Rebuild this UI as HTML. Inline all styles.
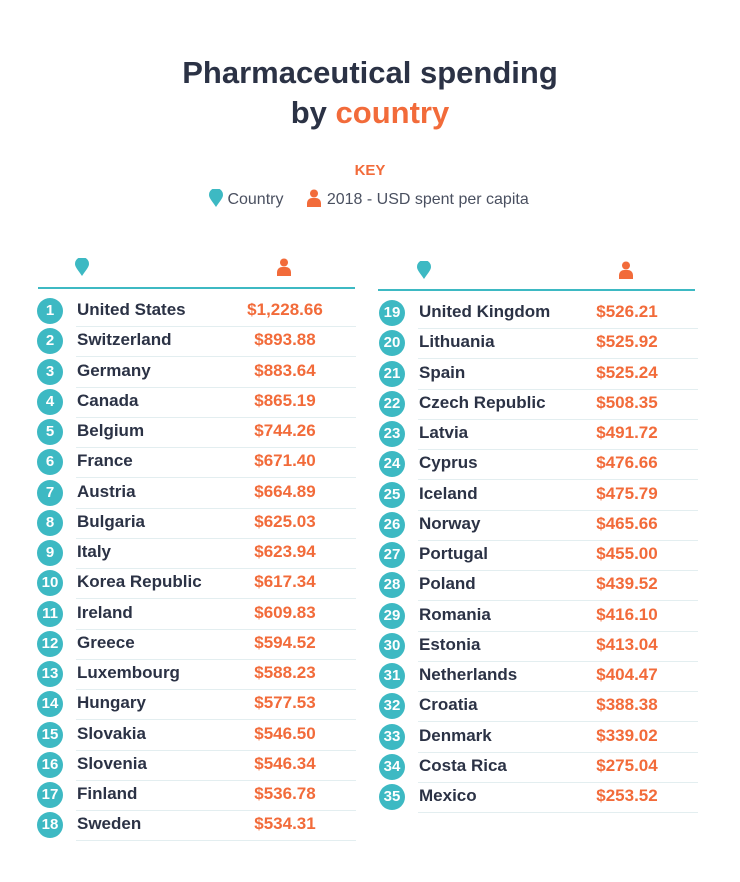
<!DOCTYPE html>
<html><head><meta charset="utf-8"><style>
body{margin:0;width:740px;height:882px;background:#fff;font-family:"Liberation Sans",sans-serif;position:relative;overflow:hidden}
.t{position:absolute;left:0;width:740px;text-align:center;font-weight:bold;font-size:31px;color:#2b3245}
.o{color:#f26b3a}
.row{position:absolute;height:30px}
.c{position:absolute;width:26px;height:26px;border-radius:50%;background:#3db9c3;color:#fff;font-weight:bold;font-size:15px;text-align:center;line-height:26px;top:-13px}
.n{position:absolute;font-weight:bold;font-size:17px;color:#2b3245;top:-11px;white-space:nowrap}
.v{position:absolute;font-weight:bold;font-size:17px;color:#f26b3a;top:-11px;width:120px;text-align:center}
.sep{position:absolute;height:1px;background:#e3eef0;top:15px}
.hl{position:absolute;height:2px;background:#3db9c3}
</style></head><body>
<div class="t" style="top:55px">Pharmaceutical spending</div>
<div class="t" style="top:95px">by <span class="o">country</span></div>
<div style="position:absolute;top:162px;left:0;width:740px;text-align:center;color:#f26b3a;font-weight:bold;font-size:15px">KEY</div>
<div style="position:absolute;top:189px;left:209px;font-size:16px;color:#4a5060">
<svg width="14" height="18" style="vertical-align:-3px" viewBox="0 0 14 18"><path d="M7 18C3 12 0 9 0 6a7 7 0 0 1 14 0c0 3-3 6-7 12z" fill="#3db9c3"/></svg> Country
<span style="display:inline-block;width:14px"></span>
<svg width="16" height="18" style="vertical-align:-3px" viewBox="0 0 16 18"><circle cx="8" cy="4.5" r="4" fill="#f26b3a"/><path d="M1 18v-4a5 5 0 0 1 5-5h4a5 5 0 0 1 5 5v4z" fill="#f26b3a"/></svg> 2018 - USD spent per capita</div>
<svg style="position:absolute;left:75px;top:258px" width="14" height="18" viewBox="0 0 14 18"><path d="M7 18C3 12 0 9 0 6a7 7 0 0 1 14 0c0 3-3 6-7 12z" fill="#3db9c3"/></svg>
<svg style="position:absolute;left:276px;top:258px" width="16" height="18" viewBox="0 0 16 18"><circle cx="8" cy="4.5" r="4" fill="#f26b3a"/><path d="M1 18v-4a5 5 0 0 1 5-5h4a5 5 0 0 1 5 5v4z" fill="#f26b3a"/></svg>
<svg style="position:absolute;left:417px;top:261px" width="14" height="18" viewBox="0 0 14 18"><path d="M7 18C3 12 0 9 0 6a7 7 0 0 1 14 0c0 3-3 6-7 12z" fill="#3db9c3"/></svg>
<svg style="position:absolute;left:618px;top:261px" width="16" height="18" viewBox="0 0 16 18"><circle cx="8" cy="4.5" r="4" fill="#f26b3a"/><path d="M1 18v-4a5 5 0 0 1 5-5h4a5 5 0 0 1 5 5v4z" fill="#f26b3a"/></svg>
<div class="hl" style="left:38px;width:317px;top:287px"></div>
<div class="hl" style="left:378px;width:317px;top:289px"></div>
<div id="L"></div>
<script>
var L=[["United States","$1,228.66"],["Switzerland","$893.88"],["Germany","$883.64"],["Canada","$865.19"],["Belgium","$744.26"],["France","$671.40"],["Austria","$664.89"],["Bulgaria","$625.03"],["Italy","$623.94"],["Korea Republic","$617.34"],["Ireland","$609.83"],["Greece","$594.52"],["Luxembourg","$588.23"],["Hungary","$577.53"],["Slovakia","$546.50"],["Slovenia","$546.34"],["Finland","$536.78"],["Sweden","$534.31"]];
var R=[["United Kingdom","$526.21"],["Lithuania","$525.92"],["Spain","$525.24"],["Czech Republic","$508.35"],["Latvia","$491.72"],["Cyprus","$476.66"],["Iceland","$475.79"],["Norway","$465.66"],["Portugal","$455.00"],["Poland","$439.52"],["Romania","$416.10"],["Estonia","$413.04"],["Netherlands","$404.47"],["Croatia","$388.38"],["Denmark","$339.02"],["Costa Rica","$275.04"],["Mexico","$253.52"]];
var h="";
function add(arr,x0,y0,start){arr.forEach(function(r,i){var y=y0+i*30.25;
h+='<div class="row" style="left:0;top:'+y+'px"><div class="c" style="left:'+(x0-13)+'px">'+(start+i)+'</div><div class="n" style="left:'+(x0+27)+'px">'+r[0]+'</div><div class="v" style="left:'+(x0+175)+'px">'+r[1]+'</div>'+(i<arr.length-1||true?'<div class="sep" style="left:'+(x0+26)+'px;width:280px"></div>':'')+'</div>';});}
add(L,50,311,1);add(R,392,313,19);
document.getElementById("L").innerHTML=h;
</script>
</body></html>
